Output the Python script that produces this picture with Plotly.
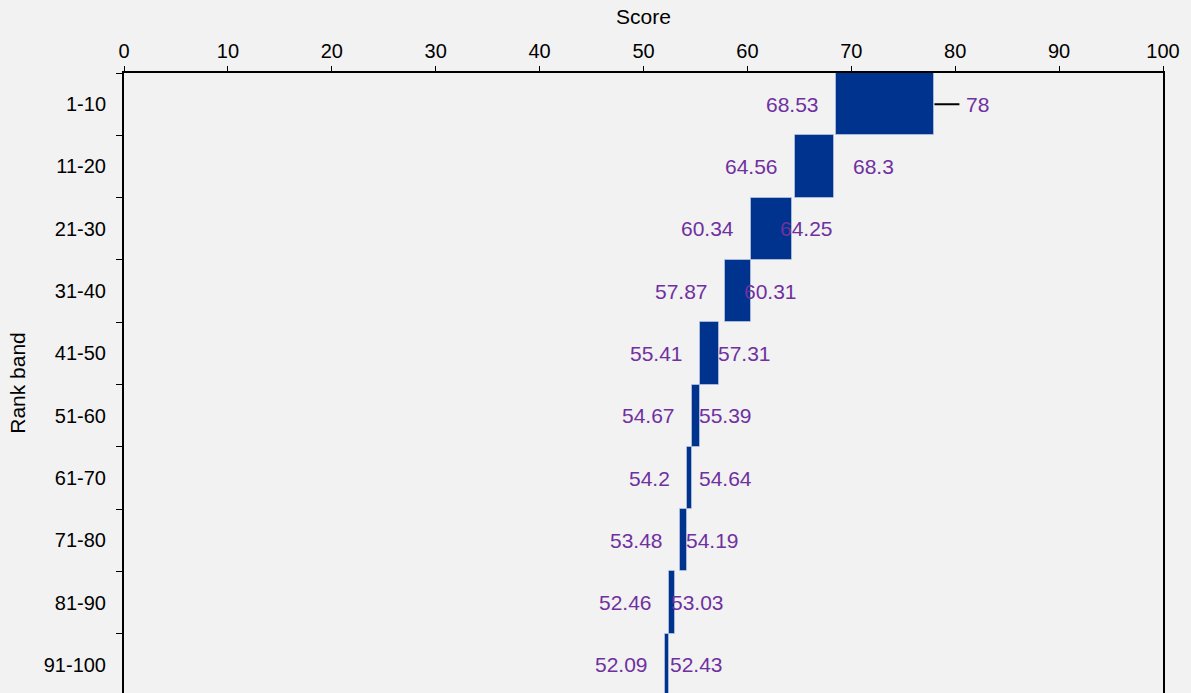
import plotly.graph_objects as go

# ---- data ----
bands = ["1-10", "11-20", "21-30", "31-40", "41-50",
         "51-60", "61-70", "71-80", "81-90", "91-100"]
score_min = [68.53, 64.56, 60.34, 57.87, 55.41, 54.67, 54.2, 53.48, 52.46, 52.09]
score_max = [78, 68.3, 64.25, 60.31, 57.31, 55.39, 54.64, 54.19, 53.03, 52.43]

# ---- styles ----
BAR_COLOR = "#00338D"
LABEL_COLOR = "#7030A0"
BG = "#F2F2F2"
FONT = "Liberation Sans, Arial, sans-serif"
max_label_shift = [0, 17, -14, -9, -3, -3, 5, -3, -6, -1]  # pixel nudges of the max labels

fig = go.Figure()
fig.add_trace(go.Bar(
    orientation="h",
    y=bands,
    x=[mx - mn for mn, mx in zip(score_min, score_max)],
    base=score_min,
    width=1,
    marker=dict(color=BAR_COLOR, line=dict(color="rgba(200,210,235,0.6)", width=1)),
    showlegend=False,
    hoverinfo="skip",
))

annotations = []
for i, (b, mn, mx) in enumerate(zip(bands, score_min, score_max)):
    annotations.append(dict(
        x=mn, y=b, xref="x", yref="y", text=f"{mn:g}", showarrow=False,
        xanchor="right", xshift=-15, font=dict(color=LABEL_COLOR, size=21, family=FONT),
    ))
    if i == 0:
        annotations.append(dict(
            x=mx, y=b, xref="x", yref="y", text=f"{mx:g}", showarrow=True,
            arrowhead=0, arrowwidth=2, arrowcolor="black", ax=43, ay=0,
            standoff=0, startstandoff=5,
            font=dict(color=LABEL_COLOR, size=21, family=FONT),
        ))
    else:
        annotations.append(dict(
            x=mx, y=b, xref="x", yref="y", text=f"{mx:g}", showarrow=False,
            xanchor="left", xshift=max_label_shift[i],
            font=dict(color=LABEL_COLOR, size=21, family=FONT),
        ))

fig.update_layout(
    width=1191, height=693,
    margin=dict(l=124, r=28, t=73, b=0),
    paper_bgcolor=BG, plot_bgcolor=BG,
    font=dict(family=FONT, size=20, color="black"),
    bargap=0,
    annotations=annotations,
    xaxis=dict(
        side="top", range=[0, 100], dtick=10, tick0=0,
        ticks="outside", ticklen=5, tickwidth=1, tickcolor="black",
        showline=True, linecolor="black", linewidth=2, mirror=False,
        showgrid=False, zeroline=False,
        title=dict(text="Score", font=dict(size=21), standoff=10),
        tickfont=dict(size=20),
    ),
    yaxis=dict(
        type="category", categoryorder="array", categoryarray=bands,
        range=[9.45, -0.5], tickson="boundaries",
        ticks="outside", ticklen=6, tickwidth=1, tickcolor="black",
        ticklabelstandoff=12,
        showline=True, linecolor="black", linewidth=2, mirror=True,
        showgrid=False, zeroline=False,
        title=dict(text="Rank band", font=dict(size=21), standoff=12),
        tickfont=dict(size=20),
    ),
)

fig.write_html(
    "out.html",
    config={"displayModeBar": False},
    post_script="document.body.style.margin='0';document.body.style.background='" + BG + "';",
)
